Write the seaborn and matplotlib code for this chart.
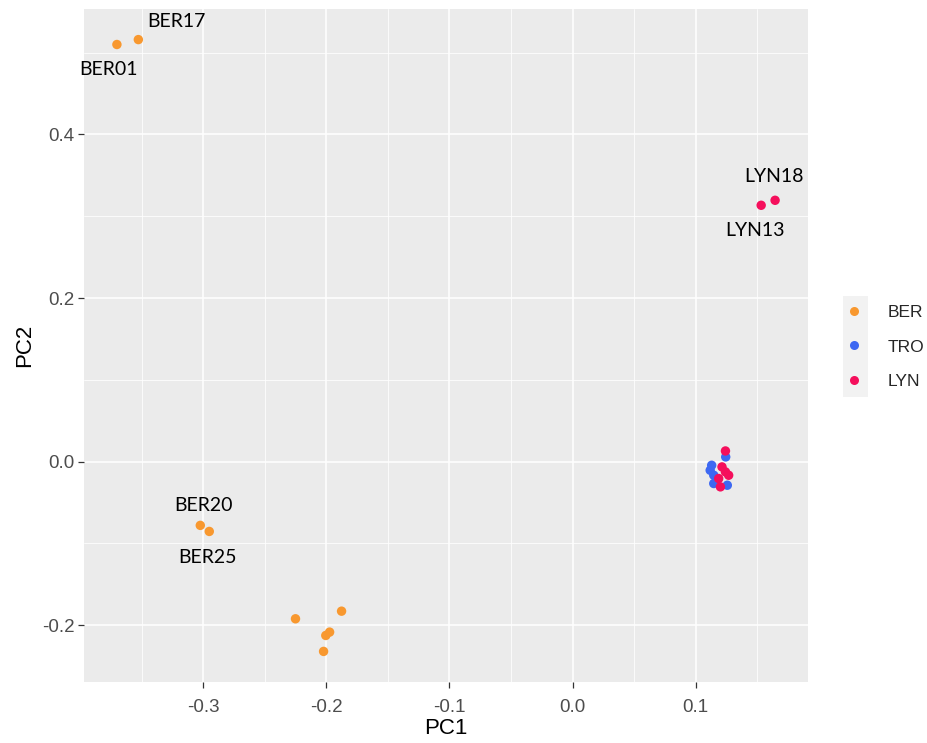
import matplotlib
matplotlib.use("Agg")
import matplotlib.pyplot as plt
from matplotlib.patches import Rectangle
import numpy as np
import pandas as pd
import seaborn as sns

# Principal component scores per individual
ber_pc1 = [-0.370, -0.3526, -0.3023, -0.2950, -0.2250, -0.1876, -0.1973, -0.2004, -0.2022]
ber_pc2 = [0.510, 0.516, -0.078, -0.0854, -0.1922, -0.1829, -0.2085, -0.2126, -0.2321]
ber_ids = ["BER01", "BER17", "BER20", "BER25", "", "", "", "", ""]

tro_pc1 = [0.1243, 0.1129, 0.1117, 0.1146, 0.1146, 0.1256]
tro_pc2 = [0.0057, -0.0045, -0.0106, -0.0167, -0.0268, -0.0289]
tro_ids = ["", "", "", "", "", ""]

lyn_pc1 = [0.1644, 0.1531, 0.1241, 0.1213, 0.1241, 0.1267, 0.1186, 0.1200]
lyn_pc2 = [0.3195, 0.3134, 0.0130, -0.0065, -0.0126, -0.0167, -0.0207, -0.0309]
lyn_ids = ["LYN18", "LYN13", "", "", "", "", "", ""]

populations = ["BER", "TRO", "LYN"]
colors = {"BER": "#F8982F", "TRO": "#3D68F2", "LYN": "#F50F5C"}

# label offsets (pixels) from the point to the text centre
label_offsets = {
    "BER17": (38, 18), "BER01": (-8, -25),
    "LYN18": (-1, 24), "LYN13": (-6, -25),
    "BER20": (3, 20), "BER25": (-2, -26),
}

df = pd.DataFrame({
    "PC1": ber_pc1 + tro_pc1 + lyn_pc1,
    "PC2": ber_pc2 + tro_pc2 + lyn_pc2,
    "pop": ["BER"] * len(ber_pc1) + ["TRO"] * len(tro_pc1) + ["LYN"] * len(lyn_pc1),
    "id": ber_ids + tro_ids + lyn_ids,
})

sns.set_theme(style="darkgrid")
plt.rcParams["font.family"] = ["Liberation Sans", "DejaVu Sans"]

W, H = 927, 743
fig = plt.figure(figsize=(W / 100, H / 100), dpi=100)
left, right, top, bottom = 84, 808, 9, 682
ax = fig.add_axes([left / W, 1 - bottom / H, (right - left) / W, (bottom - top) / H])
ax.set_facecolor("#EBEBEB")

sns.scatterplot(data=df, x="PC1", y="PC2", hue="pop", hue_order=populations,
                palette=colors, s=46, linewidth=0, ax=ax, zorder=3)

# ggplot-style 5% expansion of the data range
def expand(v, f=0.05):
    lo, hi = min(v), max(v)
    d = (hi - lo) * f
    return lo - d, hi + d

ax.set_xlim(*expand(df["PC1"]))
ax.set_ylim(*expand(df["PC2"]))

ax.set_xticks([-0.3, -0.2, -0.1, 0.0, 0.1])
ax.set_yticks([-0.2, 0.0, 0.2, 0.4])
ax.set_xticks(np.arange(-0.35, 0.2, 0.1), minor=True)
ax.set_yticks([-0.1, 0.1, 0.3, 0.5], minor=True)
ax.xaxis.set_major_formatter(matplotlib.ticker.FormatStrFormatter("%.1f"))
ax.yaxis.set_major_formatter(matplotlib.ticker.FormatStrFormatter("%.1f"))
ax.grid(which="major", color="white", linewidth=1.1)
ax.grid(which="minor", color="white", linewidth=0.55)
for s in ax.spines.values():
    s.set_visible(False)
ax.tick_params(axis="both", which="major", length=4, width=0.9, color="#333333",
               labelcolor="#4D4D4D", labelsize=13.5, pad=3, left=True, bottom=True)
ax.tick_params(axis="x", which="major", pad=8)
ax.tick_params(axis="both", which="minor", length=0)
ax.set_xlabel("PC1", fontsize=16, color="black", labelpad=2)
ax.set_ylabel("PC2", fontsize=16, color="black", labelpad=5)

# sample labels
for _, r in df[df["id"] != ""].iterrows():
    dx, dy = label_offsets[r["id"]]
    ax.annotate(r["id"], (r["PC1"], r["PC2"]), xytext=(dx * 0.72, dy * 0.72),
                textcoords="offset points", ha="center", va="center",
                fontsize=14, family=["Lato", "DejaVu Sans"], color="black", zorder=4)

# legend with grey key background
ax.get_legend().remove()
handles = [plt.Line2D([], [], marker="o", linestyle="", markersize=6.5,
                      markerfacecolor=colors[p], markeredgewidth=0) for p in populations]
fig.patches.append(Rectangle((843 / W, 1 - 397 / H), 25 / W, 101 / H,
                             transform=fig.transFigure, facecolor="#F2F2F2",
                             edgecolor="none", zorder=0))
fig.legend(handles, populations, loc="center left",
           bbox_to_anchor=(842 / W, 1 - 347 / H), frameon=False,
           fontsize=12.5, handlelength=1.4, handletextpad=1.2,
           labelspacing=1.1, borderpad=0, borderaxespad=0)

fig.savefig("out.png", dpi=100, facecolor="white")
